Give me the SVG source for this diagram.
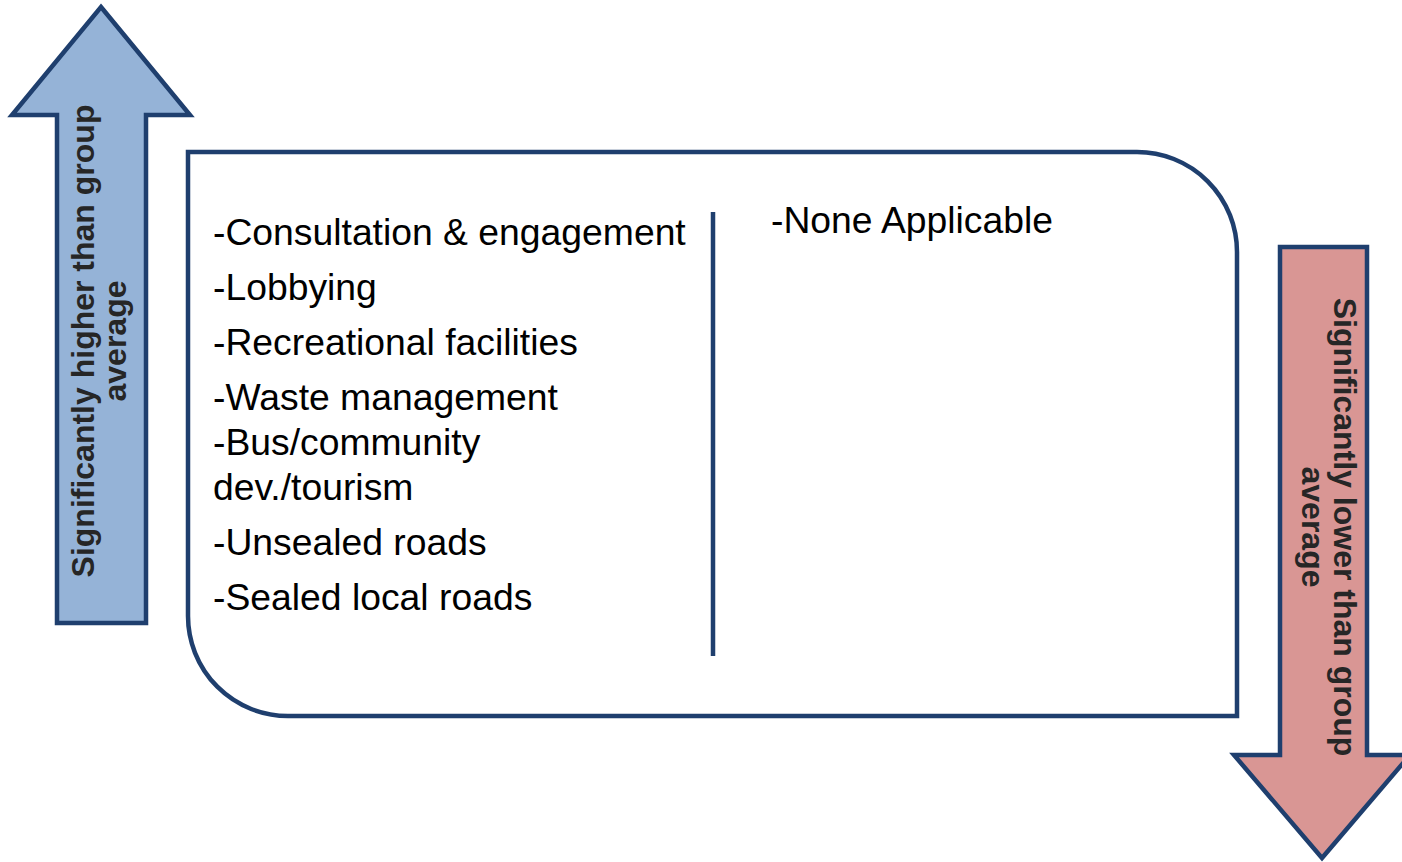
<svg xmlns="http://www.w3.org/2000/svg" width="1402" height="862" viewBox="0 0 1402 862">
<style>
.stroke{stroke:#1F3F6E;stroke-width:4.5;stroke-linejoin:miter}
.item{font-family:"Liberation Sans",Arial,sans-serif;font-size:37.3px;fill:#000}
.lbl{font-family:"Liberation Sans",Arial,sans-serif;font-size:32px;font-weight:bold;fill:#262626;text-anchor:middle}
</style>
<rect width="1402" height="862" fill="#fff"/>
<g id="up-arrow">
<polygon class="stroke" fill="#95B3D7" points="101,7 190,115 146,115 146,623 57,623 57,115 12,115"/>
<text class="lbl" transform="translate(94,341) rotate(-90)">Significantly higher than group</text>
<text class="lbl" transform="translate(126,341) rotate(-90)">average</text>
</g>
<g id="main-box">
<path class="stroke" fill="#fff" d="M188,152 H1137 A100,100 0 0 1 1237,252 V716 H288 A100,100 0 0 1 188,616 Z"/>
<line class="stroke" x1="713" y1="212" x2="713" y2="656"/>
<text class="item" x="213" y="245">-Consultation &amp; engagement</text>
<text class="item" x="213" y="300">-Lobbying</text>
<text class="item" x="213" y="355">-Recreational facilities</text>
<text class="item" x="213" y="410">-Waste management</text>
<text class="item" x="213" y="455">-Bus/community</text>
<text class="item" x="213" y="500">dev./tourism</text>
<text class="item" x="213" y="555">-Unsealed roads</text>
<text class="item" x="213" y="610">-Sealed local roads</text>
<text class="item" x="771" y="233">-None Applicable</text>
</g>
<g id="down-arrow">
<polygon class="stroke" fill="#D99694" points="1280,247 1367,247 1367,755 1410,755 1322,858 1234,755 1280,755"/>
<text class="lbl" transform="translate(1334,527) rotate(90)">Significantly lower than group</text>
<text class="lbl" transform="translate(1302,527) rotate(90)">average</text>
</g>
</svg>
